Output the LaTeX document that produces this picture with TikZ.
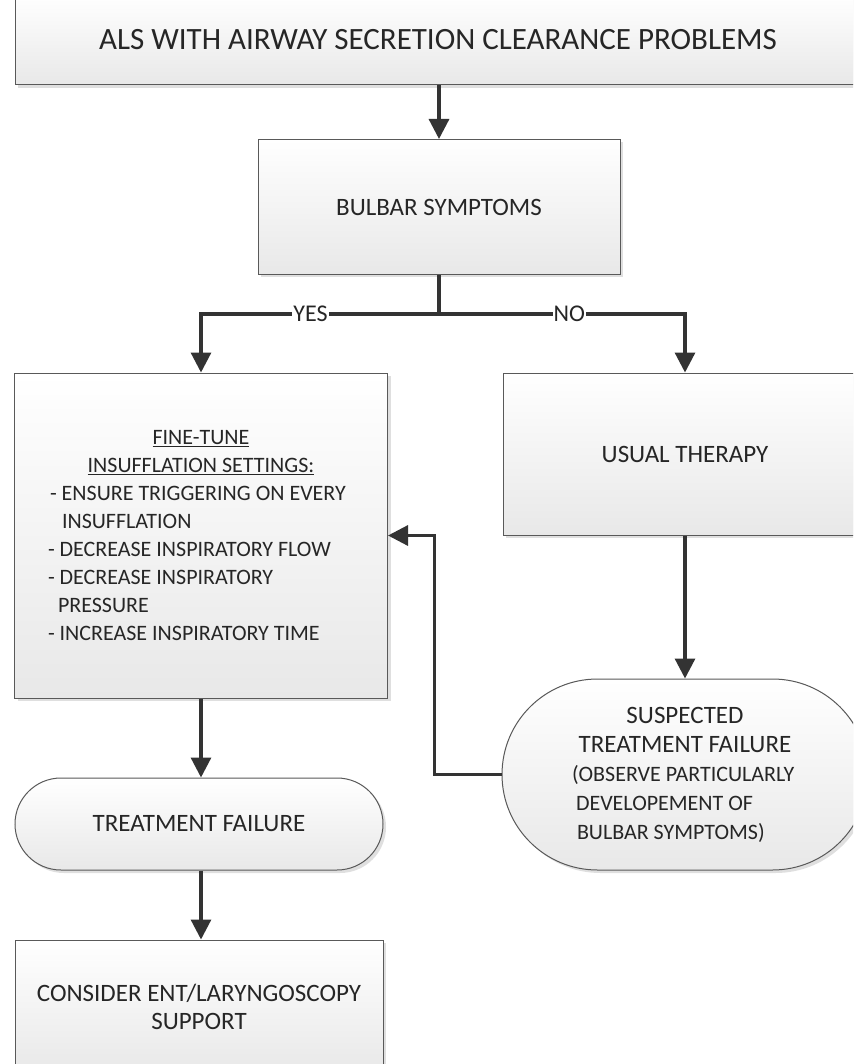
\documentclass[tikz,border=0pt]{standalone}
\usepackage{fontspec}
\setmainfont{Carlito}
\usetikzlibrary{shapes.misc,arrows.meta,shadows}
\begin{document}
\begin{tikzpicture}[x=1pt,y=-1pt,
  box/.style={draw=black!65, line width=1pt, top color=white, bottom color=black!9,
    drop shadow={shadow xshift=3pt,shadow yshift=-3pt,opacity=0.25},
    font=\fontsize{25}{28}\selectfont, align=center, inner sep=0pt, text=black!85},
  pill/.style={box, rounded rectangle},
  arr/.style={line width=3.2pt, draw=black!80, -{Triangle[length=20pt,width=20pt]}},
  ln/.style={line width=3.2pt, draw=black!80},
  lbl/.style={fill=white, inner sep=1pt, font=\fontsize{24}{26}\selectfont, text=black!85}]
\useasboundingbox (0,0) rectangle (853,1064);
\clip (0,0) rectangle (853,1064);
\fill[white] (0,0) rectangle (853,1064);

\node[box, minimum width=846, minimum height=90, font=\fontsize{31}{34}\selectfont] (top) at (438,40) {ALS WITH AIRWAY SECRETION CLEARANCE PROBLEMS};
\node[box, minimum width=362, minimum height=135] (bulbar) at (439,207) {BULBAR SYMPTOMS};
\node[box, minimum width=373, minimum height=325] (fine) at (201,535.5) {\parbox{306pt}{\fontsize{22}{28}\selectfont\centering\underline{FINE-TUNE}\\\underline{INSUFFLATION SETTINGS:}\par\raggedright\hspace*{2pt}- ENSURE TRIGGERING ON EVERY\\\hspace*{14pt}INSUFFLATION\\- DECREASE INSPIRATORY FLOW\\- DECREASE INSPIRATORY\\\hspace*{10pt}PRESSURE\\- INCREASE INSPIRATORY TIME}};
\node[box, minimum width=364, minimum height=162] (usual) at (685,454) {USUAL THERAPY};
\node[pill, minimum width=366, minimum height=191] (susp) at (685,774.5) {\parbox{226pt}{\fontsize{25}{29}\selectfont\centering SUSPECTED\\TREATMENT FAILURE\par\fontsize{22}{29}\selectfont\raggedright (OBSERVE PARTICULARLY\\\hspace*{4pt}DEVELOPEMENT OF\\\hspace*{5pt}BULBAR SYMPTOMS)}};
\node[pill, minimum width=368, minimum height=92] (tf) at (199,824) {TREATMENT FAILURE};
\node[box, minimum width=368, minimum height=134] (cons) at (199,1007) {CONSIDER ENT/LARYNGOSCOPY\\SUPPORT};

\draw[arr] (bulbar.north |- top.south) -- (bulbar.north);
\draw[ln] (bulbar.south) -- ++(0,39) coordinate (br);
\draw[arr] (br) -- node[lbl, pos=0.54]{YES} (br -| fine.north) -- (fine.north);
\draw[arr] (br) -- node[lbl, pos=0.53]{NO} (br -| usual.north) -- (usual.north);
\draw[arr] (usual.south) -- (susp.north);
\draw[arr] (susp.west) -- ++(-67,0) |- (fine.east);
\draw[arr] (fine.south) -- (fine.south |- tf.north);
\draw[arr] (fine.south |- tf.south) -- (fine.south |- cons.north);
\end{tikzpicture}
\end{document}
